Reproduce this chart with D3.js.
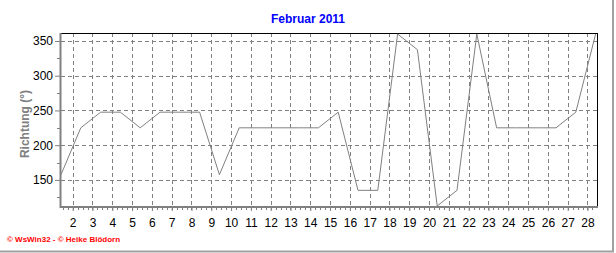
<!DOCTYPE html>
<html><head><meta charset="utf-8">
<script src="https://cdn.jsdelivr.net/npm/d3@7"></script>
<style>body{margin:0;background:#fff}svg{display:block}text{font-family:"Liberation Sans",Arial,sans-serif}</style>
</head><body><svg id="c" width="616" height="253"></svg>
<script>
const title = "Februar 2011";
const yLabel = "Richtung (°)";
const footer = "© WsWin32 - © Heike Blödorn";
const days = [1,2,3,4,5,6,7,8,9,10,11,12,13,14,15,16,17,18,19,20,21,22,23,24,25,26,27,28];
const direction = [157.5,225,247.5,247.5,225,247.5,247.5,247.5,157.5,225,225,225,225,225,247.5,135,135,360,337.5,112.5,135,360,225,225,225,225,247.5,360];
const xTicks = [2,3,4,5,6,7,8,9,10,11,12,13,14,15,16,17,18,19,20,21,22,23,24,25,26,27,28];
const yTicks = [150,200,250,300,350];
const dayOffset = 0.41;

const svg = d3.select("#c");
const L = 61, R = 597, T = 33, B = 207;
const x = d3.scaleLinear().domain([1.41, 28.48]).range([L, R]);
const y = d3.scaleLinear().domain([111, 361.5]).range([B, T]);

// outer frame lines
svg.append("line").attr("x1",0).attr("x2",614).attr("y1",251.5).attr("y2",251.5).attr("stroke","#a0a0a0").attr("stroke-width",2);
svg.append("line").attr("x1",613).attr("x2",613).attr("y1",0).attr("y2",252).attr("stroke","#a0a0a0").attr("stroke-width",2);

// title
svg.append("text").attr("x",308).attr("y",23).attr("text-anchor","middle")
  .attr("fill","#0000ff").attr("font-weight","bold").attr("font-size","12px").text(title);

// grid
const g = svg.append("g");
g.selectAll(".hg").data(yTicks).join("line")
  .attr("x1",L).attr("x2",R).attr("y1",d=>Math.round(y(d))+0.5).attr("y2",d=>Math.round(y(d))+0.5)
  .attr("stroke","#808080").attr("stroke-dasharray","4,3");
g.selectAll(".vg").data(xTicks).join("line")
  .attr("x1",d=>Math.round(x(d))+0.5).attr("x2",d=>Math.round(x(d))+0.5).attr("y1",T).attr("y2",B)
  .attr("stroke","#808080").attr("stroke-dasharray","4,3");

// frame top/right
svg.append("line").attr("x1",L).attr("x2",R+0.5).attr("y1",T+0.5).attr("y2",T+0.5).attr("stroke","#000");
svg.append("line").attr("x1",R+0.5).attr("x2",R+0.5).attr("y1",T).attr("y2",B).attr("stroke","#000");

// data line
const line = d3.line().x((d,i)=>x(days[i]+dayOffset)).y(d=>y(d));
svg.append("path").datum(direction).attr("d",line).attr("fill","none").attr("stroke","#808080").attr("stroke-width",1);

// axes
const yAxis = d3.axisLeft(y).tickValues(yTicks).tickSize(5).tickPadding(2).tickFormat(d3.format("d"));
const ya = svg.append("g").attr("transform",`translate(${L-1},0)`).call(yAxis);
ya.select(".domain").remove();
ya.selectAll("line").attr("stroke","#808080");
ya.selectAll("text").attr("font-size","12px").attr("fill","#000").attr("font-family","Liberation Sans, Arial, sans-serif");
const yMinor = d3.range(125, 361, 25).filter(v=>!yTicks.includes(v));
svg.append("g").selectAll("line").data(yMinor).join("line")
  .attr("x1",L-4).attr("x2",L-1).attr("y1",d=>Math.round(y(d))+0.5).attr("y2",d=>Math.round(y(d))+0.5).attr("stroke","#808080");

const xAxis = d3.axisBottom(x).tickValues(xTicks).tickSize(3).tickPadding(7).tickFormat(d3.format("d"));
const xa = svg.append("g").attr("transform",`translate(0,${B+1})`).call(xAxis);
xa.select(".domain").remove();
xa.selectAll("line").attr("stroke","#808080");
xa.selectAll("text").attr("font-size","12px").attr("fill","#000").attr("font-family","Liberation Sans, Arial, sans-serif");
const xMinor = d3.range(1.5, 28.5, 0.25).filter(v=>x(v)>=L && x(v)<=R);
svg.append("g").selectAll("line").data(xMinor).join("line")
  .attr("x1",d=>Math.round(x(d))+0.5).attr("x2",d=>Math.round(x(d))+0.5).attr("y1",B+1).attr("y2",B+3).attr("stroke","#808080");

// axis lines (gray, thick)
svg.append("line").attr("x1",L-0.5).attr("x2",L-0.5).attr("y1",T).attr("y2",B+1).attr("stroke","#808080").attr("stroke-width",2);
svg.append("line").attr("x1",L-1).attr("x2",R+1).attr("y1",B).attr("y2",B).attr("stroke","#808080").attr("stroke-width",2);

// y label
svg.append("text").attr("transform","translate(29,124) rotate(-90)").attr("text-anchor","middle")
  .attr("fill","#808080").attr("font-weight","bold").attr("font-size","12px").text(yLabel);

// footer
svg.append("text").attr("x",7).attr("y",242).attr("fill","#ff0000").attr("font-size","8px").attr("font-weight","bold").text(footer);
</script></body></html>
